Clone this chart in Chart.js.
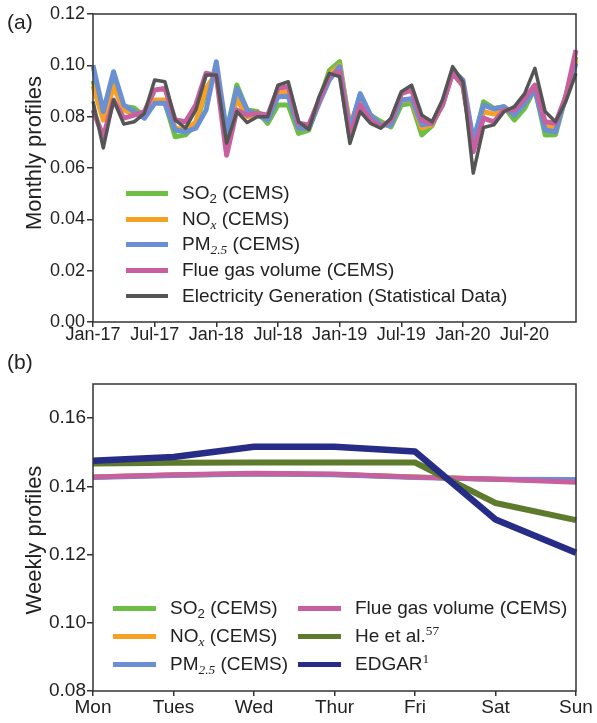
<!DOCTYPE html>
<html>
<head>
<meta charset="utf-8">
<script src="https://cdn.jsdelivr.net/npm/chart.js@4.4.0/dist/chart.umd.min.js"></script>
<style>
body { margin: 0; background: #fff; font-family: "Liberation Sans", Arial, sans-serif; color: #222; }
#page { position: relative; width: 597px; height: 723px; overflow: hidden; }
canvas { position: absolute; left: 0; }
.panel { position: absolute; font-size: 21px; }
.ytitle { position: absolute; font-size: 22px; white-space: nowrap; transform: translate(-50%, -50%) rotate(-90deg); }
.row { position: absolute; display: flex; align-items: center; height: 24px; white-space: nowrap; font-size: 19px; }
.swatch { display: inline-block; height: 5px; margin-right: 14px; }
.ser { font-family: "Liberation Serif", "Times New Roman", serif; }
sub { font-size: 0.7em; vertical-align: -0.3em; line-height: 0; }
sup { font-size: 0.7em; vertical-align: 0.55em; line-height: 0; }
</style>
</head>
<body>
<div id="page">
  <canvas id="monthlyChart" width="597" height="350" style="top:0"></canvas>
  <canvas id="weeklyChart" width="597" height="373" style="top:350px"></canvas>

  <div class="panel" style="left:7px; top:10px">(a)</div>
  <div class="panel" style="left:7px; top:350px">(b)</div>
  <div class="ytitle" style="left:34px; top:153px">Monthly profiles</div>
  <div class="ytitle" style="left:34px; top:540px">Weekly profiles</div>

  <!-- legend (a) -->
  <div class="row" style="left:126px; top:181px"><span class="swatch" style="width:42px; background:#6dbe45"></span><span>SO<sub>2</sub> (CEMS)</span></div>
  <div class="row" style="left:126px; top:207px"><span class="swatch" style="width:42px; background:#f7a124"></span><span>NO<sub class="ser"><i>x</i></sub> (CEMS)</span></div>
  <div class="row" style="left:126px; top:232px"><span class="swatch" style="width:42px; background:#6a8fd2"></span><span>PM<sub class="ser"><i>2.5</i></sub> (CEMS)</span></div>
  <div class="row" style="left:126px; top:258px"><span class="swatch" style="width:42px; background:#c8609f"></span><span>Flue gas volume (CEMS)</span></div>
  <div class="row" style="left:126px; top:284px"><span class="swatch" style="width:42px; height:4px; background:#555"></span><span>Electricity Generation (Statistical Data)</span></div>

  <!-- legend (b) -->
  <div class="row" style="left:113px; top:596px"><span class="swatch" style="width:43px; background:#6dbe45"></span><span>SO<sub>2</sub> (CEMS)</span></div>
  <div class="row" style="left:113px; top:624px"><span class="swatch" style="width:43px; background:#f7a124"></span><span>NO<sub class="ser"><i>x</i></sub> (CEMS)</span></div>
  <div class="row" style="left:113px; top:652px"><span class="swatch" style="width:43px; background:#6a8fd2"></span><span>PM<sub class="ser"><i>2.5</i></sub> (CEMS)</span></div>
  <div class="row" style="left:298px; top:596px"><span class="swatch" style="width:43px; background:#c8609f"></span><span>Flue gas volume (CEMS)</span></div>
  <div class="row" style="left:298px; top:624px"><span class="swatch" style="width:43px; background:#5e7a2c"></span><span>He et al.<sup class="ser">57</sup></span></div>
  <div class="row" style="left:298px; top:652px"><span class="swatch" style="width:43px; background:#272d86"></span><span>EDGAR<sup class="ser">1</sup></span></div>
</div>

<script>
// ---- data (a): monthly profiles, Jan-17 .. Dec-20 ----
const months = [
  'Jan-17','Feb-17','Mar-17','Apr-17','May-17','Jun-17','Jul-17','Aug-17','Sep-17','Oct-17','Nov-17','Dec-17',
  'Jan-18','Feb-18','Mar-18','Apr-18','May-18','Jun-18','Jul-18','Aug-18','Sep-18','Oct-18','Nov-18','Dec-18',
  'Jan-19','Feb-19','Mar-19','Apr-19','May-19','Jun-19','Jul-19','Aug-19','Sep-19','Oct-19','Nov-19','Dec-19',
  'Jan-20','Feb-20','Mar-20','Apr-20','May-20','Jun-20','Jul-20','Aug-20','Sep-20','Oct-20','Nov-20','Dec-20'
];
const so2Monthly = [
  0.094, 0.080, 0.094, 0.084, 0.0834, 0.080, 0.0855, 0.0855, 0.0722, 0.0729, 0.077, 0.090,
  0.0969, 0.074, 0.0923, 0.0826, 0.082, 0.0774, 0.0845, 0.0845, 0.0735, 0.0748, 0.086, 0.098,
  0.1014, 0.075, 0.0885, 0.0806, 0.0781, 0.076, 0.0845, 0.0852, 0.0729, 0.0765, 0.0855, 0.097,
  0.092, 0.069, 0.0858, 0.0832, 0.0839, 0.0787, 0.0832, 0.091, 0.0729, 0.073, 0.0878, 0.1034
];
const noxMonthly = [
  0.092, 0.0787, 0.0917, 0.0826, 0.081, 0.0815, 0.0865, 0.0865, 0.0756, 0.0745, 0.078, 0.091,
  0.097, 0.072, 0.087, 0.080, 0.0806, 0.0794, 0.089, 0.0897, 0.0755, 0.0755, 0.0855, 0.0965,
  0.100, 0.077, 0.0865, 0.080, 0.077, 0.077, 0.0865, 0.0865, 0.0755, 0.077, 0.0845, 0.0975,
  0.092, 0.0683, 0.082, 0.081, 0.083, 0.082, 0.086, 0.0915, 0.0765, 0.076, 0.0878, 0.102
];
const pmMonthly = [
  0.100, 0.082, 0.0975, 0.0845, 0.082, 0.0794, 0.0852, 0.0852, 0.0748, 0.0741, 0.0755, 0.0826,
  0.1014, 0.074, 0.091, 0.0826, 0.0806, 0.0787, 0.0878, 0.088, 0.0755, 0.0755, 0.0852, 0.0943,
  0.0995, 0.075, 0.089, 0.0806, 0.0768, 0.0768, 0.0865, 0.087, 0.0768, 0.0774, 0.0845, 0.098,
  0.0943, 0.0709, 0.0845, 0.083, 0.0839, 0.0806, 0.0852, 0.0904, 0.0748, 0.0741, 0.0878, 0.1008
];
const flueMonthly = [
  0.0826, 0.0722, 0.0865, 0.0794, 0.0806, 0.082, 0.0904, 0.091, 0.0787, 0.078, 0.0845, 0.0969,
  0.096, 0.065, 0.0826, 0.0806, 0.0813, 0.0806, 0.091, 0.0917, 0.0774, 0.0768, 0.0865, 0.096,
  0.0975, 0.072, 0.0845, 0.0787, 0.076, 0.0787, 0.089, 0.0904, 0.0787, 0.0774, 0.0845, 0.097,
  0.0923, 0.0663, 0.0794, 0.078, 0.0826, 0.0826, 0.0871, 0.0923, 0.078, 0.0774, 0.0878, 0.106
];
const elecMonthly = [
  0.086, 0.0678, 0.0865, 0.0771, 0.078, 0.0813, 0.0943, 0.0936, 0.0787, 0.0755, 0.0826, 0.0962,
  0.0962, 0.0697, 0.082, 0.0777, 0.080, 0.080, 0.0923, 0.0936, 0.0781, 0.075, 0.0878, 0.0969,
  0.0956, 0.0696, 0.082, 0.0774, 0.0755, 0.0794, 0.0897, 0.0923, 0.0806, 0.078, 0.0865, 0.0995,
  0.0936, 0.058, 0.0758, 0.0768, 0.082, 0.0839, 0.089, 0.0988, 0.082, 0.078, 0.0858, 0.0969
];
const monthlyYTicks = [0, 0.02, 0.04, 0.06, 0.08, 0.10, 0.12];

// ---- data (b): weekly profiles ----
const days = ['Mon', 'Tues', 'Wed', 'Thur', 'Fri', 'Sat', 'Sun'];
const so2Weekly   = [0.1427, 0.1433, 0.1437, 0.1435, 0.1427, 0.1421, 0.1418];
const noxWeekly   = [0.1427, 0.1433, 0.1436, 0.1435, 0.1427, 0.1421, 0.1416];
const pmWeekly    = [0.1426, 0.1432, 0.1436, 0.1434, 0.1426, 0.1421, 0.1420];
const flueWeekly  = [0.1427, 0.1434, 0.1438, 0.1436, 0.1427, 0.1421, 0.1412];
const heWeekly    = [0.1467, 0.1469, 0.1470, 0.1470, 0.1470, 0.1351, 0.1301];
const edgarWeekly = [0.1475, 0.1486, 0.1516, 0.1516, 0.1502, 0.1303, 0.1205];
const weeklyYTicks = [0.08, 0.10, 0.12, 0.14, 0.16];

const FRAME = '#333';
const TICK_FONT = { family: '"Liberation Sans", Arial, sans-serif' };

// draws the box round the plot area
const framePlugin = {
  id: 'frame',
  afterDraw(chart) {
    const { ctx, chartArea: a } = chart;
    ctx.save();
    ctx.strokeStyle = FRAME;
    ctx.lineWidth = 1.5;
    ctx.strokeRect(a.left, a.top, a.right - a.left, a.bottom - a.top);
    ctx.restore();
  }
};

function line(data, color, width, order) {
  return {
    data: data,
    borderColor: color,
    borderWidth: width,
    pointRadius: 0,
    tension: 0,
    borderJoinStyle: 'round',
    order: order
  };
}

const common = {
  responsive: false,
  animation: false,
  events: [],
  plugins: { legend: { display: false }, tooltip: { enabled: false } }
};

// panel (a)
new Chart(document.getElementById('monthlyChart'), {
  type: 'line',
  data: {
    labels: months,
    datasets: [
      line(so2Monthly, '#6dbe45', 5, 4),
      line(noxMonthly, '#f7a124', 5, 3),
      line(pmMonthly, '#6a8fd2', 5, 2),
      line(flueMonthly, '#c8609f', 5, 1),
      line(elecMonthly, '#555555', 3.5, 0)
    ]
  },
  options: Object.assign({}, common, {
    layout: { padding: { top: 14, right: 21, left: 0, bottom: 0 } },
    scales: {
      x: {
        offset: false,
        border: { display: false },
        grid: {
          drawOnChartArea: false,
          tickLength: 5,
          lineWidth: 1.5,
          tickColor: ctx => (ctx.index % 6 === 0 ? FRAME : 'rgba(0,0,0,0)')
        },
        ticks: {
          autoSkip: false,
          maxRotation: 0,
          padding: -1,
          color: '#222',
          font: Object.assign({ size: 18, lineHeight: 1 }, TICK_FONT),
          callback: function (value, index) { return index % 6 === 0 ? this.getLabelForValue(value) : ''; }
        },
        afterFit: s => { s.height = 28; }
      },
      y: {
        min: 0,
        max: 0.12,
        border: { display: false },
        grid: { drawOnChartArea: false, tickLength: 6, lineWidth: 1.5, tickColor: FRAME },
        afterBuildTicks: s => { s.ticks = monthlyYTicks.map(v => ({ value: v })); },
        ticks: {
          padding: 2,
          color: '#222',
          font: Object.assign({ size: 18 }, TICK_FONT),
          callback: v => v.toFixed(2)
        },
        afterFit: s => { s.width = 93; }
      }
    }
  }),
  plugins: [framePlugin]
});

// panel (b)
new Chart(document.getElementById('weeklyChart'), {
  type: 'line',
  data: {
    labels: days,
    datasets: [
      line(so2Weekly, '#6dbe45', 5, 5),
      line(noxWeekly, '#f7a124', 5, 4),
      line(pmWeekly, '#6a8fd2', 5, 3),
      line(flueWeekly, '#c8609f', 5, 2),
      line(heWeekly, '#5e7a2c', 6, 1),
      line(edgarWeekly, '#272d86', 6.5, 0)
    ]
  },
  options: Object.assign({}, common, {
    layout: { padding: { top: 34, right: 21, left: 0, bottom: 0 } },
    scales: {
      x: {
        offset: false,
        border: { display: false },
        grid: { drawOnChartArea: false, tickLength: 5, lineWidth: 1.5, tickColor: FRAME },
        ticks: {
          autoSkip: false,
          maxRotation: 0,
          padding: 2,
          color: '#222',
          font: Object.assign({ size: 19, lineHeight: 1 }, TICK_FONT)
        },
        afterFit: s => { s.height = 32; }
      },
      y: {
        min: 0.08,
        max: 0.17,
        border: { display: false },
        grid: { drawOnChartArea: false, tickLength: 6, lineWidth: 1.5, tickColor: FRAME },
        afterBuildTicks: s => { s.ticks = weeklyYTicks.map(v => ({ value: v })); },
        ticks: {
          padding: 1,
          color: '#222',
          font: Object.assign({ size: 19 }, TICK_FONT),
          callback: v => v.toFixed(2)
        },
        afterFit: s => { s.width = 93; }
      }
    }
  }),
  plugins: [framePlugin]
});
</script>
</body>
</html>
